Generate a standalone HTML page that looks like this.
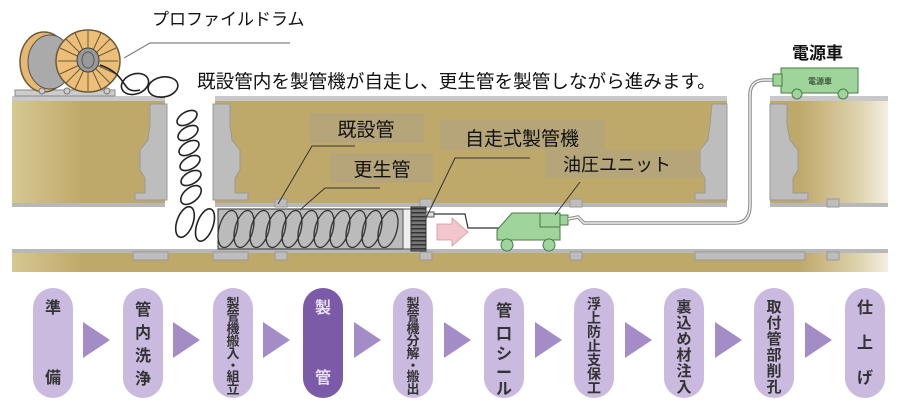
<!DOCTYPE html>
<html><head><meta charset="utf-8"><style>
html,body{margin:0;padding:0;background:#fff;width:900px;height:408px;overflow:hidden}
svg{display:block}
text{font-family:"Liberation Sans","Noto Sans CJK JP",sans-serif}
</style></head><body>
<svg width="900" height="408" viewBox="0 0 900 408" xmlns="http://www.w3.org/2000/svg">
<defs>
<linearGradient id="soil" x1="0" x2="1" y1="0" y2="0">
<stop offset="0" stop-color="#d6c791"/><stop offset="0.08" stop-color="#bfa96a"/><stop offset="0.9" stop-color="#bfa96a"/><stop offset="0.97" stop-color="#e0d5b2"/><stop offset="1" stop-color="#f3efe2"/>
</linearGradient>
<pattern id="hatch" width="3" height="4" patternUnits="userSpaceOnUse"><rect width="3" height="4" fill="#777"/><rect width="3" height="1.5" fill="#333"/></pattern>
</defs>
<rect x="12" y="100" width="876" height="172" fill="url(#soil)"/>
<rect x="12" y="206" width="876" height="45" fill="#fff"/>
<rect x="12" y="203" width="876" height="4" fill="#b8b8b8"/>
<rect x="12" y="249" width="876" height="4" fill="#b8b8b8"/>
<rect x="165" y="96" width="50" height="112" fill="#fff"/>
<rect x="727" y="96" width="43" height="112" fill="#fff"/>
<rect x="12" y="96" width="153" height="5" fill="#c8c8c8"/>
<rect x="215" y="96" width="512" height="5" fill="#c8c8c8"/>
<rect x="770" y="96" width="118" height="5" fill="#c8c8c8"/>
<g fill="#bdbdbd" stroke="#999" stroke-width="1">
<polygon points="150,104 167,104 167,200 135,200 135,193 145,193 145,178 140,170 140,150 148,140 150,125"/>
<polygon points="213,104 230,104 230,125 232,140 240,150 240,170 235,178 235,193 248,193 248,200 213,200"/>
<polygon points="712,104 727,104 727,200 695,200 695,193 705,193 705,178 700,170 700,150 708,140 710,125"/>
<polygon points="770,104 787,104 787,125 790,140 798,150 798,170 793,178 793,193 808,193 808,200 770,200"/>
<rect x="133" y="252" width="35" height="8"/><rect x="213" y="252" width="35" height="8"/>
<rect x="695" y="252" width="110" height="8"/>
<rect x="275" y="199" width="12" height="8"/><rect x="275" y="252" width="12" height="8"/>
<rect x="420" y="199" width="12" height="8"/><rect x="420" y="252" width="12" height="8"/>
<rect x="570" y="199" width="12" height="8"/><rect x="570" y="252" width="12" height="8"/>
<rect x="827" y="199" width="12" height="8"/><rect x="827" y="252" width="12" height="8"/>
</g>
<rect x="15" y="90" width="100" height="6" fill="#ccc" stroke="#888"/>
<ellipse cx="44" cy="62" rx="24" ry="30" fill="#e8b870" stroke="#6a5a3a" stroke-width="1.5"/>
<ellipse cx="50" cy="62" rx="22" ry="27" fill="#aaa" stroke="#555"/>
<ellipse cx="88" cy="61" rx="32" ry="31" fill="#edbe78" stroke="#6a5a3a" stroke-width="1.5"/>
<g stroke="#6a5a3a" stroke-width="1">
<line x1="88" y1="31" x2="88" y2="91"/><line x1="58" y1="61" x2="118" y2="61"/>
<line x1="66" y1="39" x2="110" y2="83"/><line x1="110" y1="39" x2="66" y2="83"/>
<line x1="75" y1="33" x2="101" y2="89"/><line x1="101" y1="33" x2="75" y2="89"/>
<line x1="60" y1="48" x2="116" y2="74"/><line x1="116" y1="48" x2="60" y2="74"/>
</g>
<ellipse cx="88" cy="60" rx="11" ry="12" fill="#999" stroke="#444"/>
<ellipse cx="88" cy="60" rx="6" ry="8" fill="none" stroke="#555"/>
<circle cx="42" cy="91" r="3" fill="#ccc" stroke="#777"/><circle cx="67" cy="91" r="3" fill="#ccc" stroke="#777"/><circle cx="107" cy="91" r="3" fill="#ccc" stroke="#777"/>
<polyline points="124,58 150,43 290,43" fill="none" stroke="#666" stroke-width="1"/>
<g fill="none" stroke="#222" stroke-width="1.6">
<path d="M100,65 C130,75 120,95 140,90"/>
<ellipse cx="135" cy="84" rx="14" ry="10" transform="rotate(-20 135 84)"/>
<ellipse cx="163" cy="87" rx="15" ry="10" transform="rotate(-10 163 87)"/>
<ellipse cx="187" cy="118" rx="11" ry="6" transform="rotate(-30 187 118)"/>
<ellipse cx="188" cy="133" rx="11" ry="6" transform="rotate(-30 188 133)"/>
<ellipse cx="189" cy="148" rx="11" ry="6" transform="rotate(-30 189 148)"/>
<ellipse cx="190" cy="163" rx="11" ry="6" transform="rotate(-30 190 163)"/>
<ellipse cx="191" cy="178" rx="11" ry="6" transform="rotate(-30 191 178)"/>
<ellipse cx="191" cy="195" rx="12" ry="7" transform="rotate(-40 191 195)"/>
<ellipse cx="185" cy="222" rx="8" ry="16" transform="rotate(20 185 222)"/>
<ellipse cx="205" cy="225" rx="8" ry="17" transform="rotate(20 205 225)"/>
</g>
<rect x="218" y="209" width="185" height="40" fill="#bbb" stroke="#333"/>
<g fill="none" stroke="#333" stroke-width="1.3">
<ellipse cx="228" cy="229" rx="9" ry="19" transform="rotate(15 228 229)"/>
<ellipse cx="244" cy="229" rx="9" ry="19" transform="rotate(15 244 229)"/>
<ellipse cx="260" cy="229" rx="9" ry="19" transform="rotate(15 260 229)"/>
<ellipse cx="276" cy="229" rx="9" ry="19" transform="rotate(15 276 229)"/>
<ellipse cx="292" cy="229" rx="9" ry="19" transform="rotate(15 292 229)"/>
<ellipse cx="308" cy="229" rx="9" ry="19" transform="rotate(15 308 229)"/>
<ellipse cx="324" cy="229" rx="9" ry="19" transform="rotate(15 324 229)"/>
<ellipse cx="340" cy="229" rx="9" ry="19" transform="rotate(15 340 229)"/>
<ellipse cx="356" cy="229" rx="9" ry="19" transform="rotate(15 356 229)"/>
<ellipse cx="372" cy="229" rx="9" ry="19" transform="rotate(15 372 229)"/>
<ellipse cx="388" cy="229" rx="9" ry="19" transform="rotate(15 388 229)"/>
</g>
<rect x="403" y="209" width="8" height="40" fill="#eee" stroke="#555"/>
<rect x="411" y="207" width="15" height="44" fill="url(#hatch)" stroke="#333"/>
<rect x="426" y="212" width="8" height="5" fill="#ddd" stroke="#555"/>
<polyline points="434,214 465,214 468,228 500,228" fill="none" stroke="#333" stroke-width="1.2"/>
<polygon points="437,224 452,224 452,218 468,232 452,246 452,240 437,240" fill="#f3c6cc" stroke="#c99" stroke-width="0.8"/>
<g fill="#9fd49b" stroke="#4a7a4a" stroke-width="1">
<polygon points="497,230 512,213 560,213 560,240 497,240"/>
<rect x="540" y="213" width="20" height="14"/>
<rect x="560" y="215" width="8" height="10"/>
<circle cx="507" cy="245" r="6"/><circle cx="549" cy="245" r="6"/>
</g>
<path d="M568,219 L578,217 L584,223 L735,223 Q750,223 750,205 L750,95 Q750,80 765,80 L780,80" fill="none" stroke="#888" stroke-width="3.5"/>
<path d="M568,219 L578,217 L584,223 L735,223 Q750,223 750,205 L750,95 Q750,80 765,80 L780,80" fill="none" stroke="#eee" stroke-width="1.5"/>
<g fill="#9fd49b" stroke="#4a7a4a" stroke-width="1">
<rect x="781" y="68" width="77" height="25"/>
<rect x="773" y="74" width="9" height="12"/>
<circle cx="797" cy="94" r="5"/><circle cx="843" cy="94" r="5"/>
</g>
<text x="820" y="84" font-size="8" font-weight="bold" fill="#3a5a3a" text-anchor="middle">電源車</text>
<rect x="309" y="113" width="115" height="30" fill="#b4a57b" opacity="0.85"/>
<rect x="330" y="153" width="103" height="30" fill="#b4a57b" opacity="0.85"/>
<rect x="440" y="120" width="165" height="30" fill="#b4a57b" opacity="0.85"/>
<rect x="545" y="150" width="155" height="28" fill="#b4a57b" opacity="0.85"/>
<text x="366" y="136" font-size="19" fill="#111" text-anchor="middle">既設管</text>
<text x="382" y="176" font-size="19" fill="#111" text-anchor="middle">更生管</text>
<text x="522" y="145" font-size="19" fill="#111" text-anchor="middle">自走式製管機</text>
<text x="617" y="171" font-size="18" fill="#111" text-anchor="middle">油圧ユニット</text>
<g stroke="#333" stroke-width="1" fill="none">
<polyline points="355,146 312,146 278,204"/>
<polyline points="380,188 325,188 300,210"/>
<polyline points="530,158 455,158 426,218"/>
<polyline points="580,182 555,215"/>
</g>
<text x="152" y="25" font-size="17" fill="#111">プロファイルドラム</text>
<text x="197" y="88" font-size="18.6" fill="#111">既設管内を製管機が自走し、更生管を製管しながら進みます。</text>
<text x="792" y="59" font-size="17" font-weight="bold" fill="#111">電源車</text>
<g fill="#a48cc6">
<polygon points="83,322 110,340 83,358"/>
<polygon points="173,322 200,340 173,358"/>
<polygon points="263,322 290,340 263,358"/>
<polygon points="354,322 381,340 354,358"/>
<polygon points="444,322 471,340 444,358"/>
<polygon points="535,322 562,340 535,358"/>
<polygon points="625,322 652,340 625,358"/>
<polygon points="715,322 742,340 715,358"/>
<polygon points="805,322 832,340 805,358"/>
</g>
<g fill="#cbbadf">
<rect x="33" y="288" width="40" height="110" rx="20"/>
<rect x="123" y="288" width="40" height="110" rx="20"/>
<rect x="213" y="288" width="40" height="110" rx="20"/>
<rect x="303" y="288" width="40" height="110" rx="20" fill="#7b5aa8"/>
<rect x="393" y="288" width="40" height="110" rx="20"/>
<rect x="484" y="288" width="40" height="110" rx="20"/>
<rect x="574" y="288" width="40" height="110" rx="20"/>
<rect x="664" y="288" width="40" height="110" rx="20"/>
<rect x="754" y="288" width="40" height="110" rx="20"/>
<rect x="845" y="288" width="40" height="110" rx="20"/>
</g>
<g font-size="16" font-weight="bold" fill="#333" text-anchor="middle">
<text x="53" y="313">準</text><text x="53" y="383">備</text>
<text x="143" y="315">管</text><text x="143" y="338">内</text><text x="143" y="361">洗</text><text x="143" y="384">浄</text>
<g font-size="13"><text x="233" y="308">製</text><text x="233" y="320.5">管</text><text x="233" y="333">機</text><text x="233" y="345.5">搬</text><text x="233" y="358">入</text><text x="233" y="370">・</text><text x="233" y="381">組</text><text x="233" y="393.5">立</text></g>
<text x="323" y="313" fill="#e8e0f2">製</text><text x="323" y="383" fill="#e8e0f2">管</text>
<g font-size="13"><text x="413" y="308">製</text><text x="413" y="320.5">管</text><text x="413" y="333">機</text><text x="413" y="345.5">分</text><text x="413" y="358">解</text><text x="413" y="370">・</text><text x="413" y="381">搬</text><text x="413" y="393.5">出</text></g>
<text x="504" y="316">管</text><text x="504" y="339">口</text><text x="504" y="359">シ</text><text x="504" y="378">ー</text><text x="504" y="394">ル</text>
<g font-size="14"><text x="594" y="309">浮</text><text x="594" y="323">上</text><text x="594" y="337">防</text><text x="594" y="351">止</text><text x="594" y="365">支</text><text x="594" y="379">保</text><text x="594" y="393">工</text></g>
<g font-size="15"><text x="684" y="312">裏</text><text x="684" y="328">込</text><text x="684" y="344">め</text><text x="684" y="360">材</text><text x="684" y="376">注</text><text x="684" y="392">入</text></g>
<g font-size="15"><text x="774" y="312">取</text><text x="774" y="328">付</text><text x="774" y="344">管</text><text x="774" y="360">部</text><text x="774" y="376">削</text><text x="774" y="392">孔</text></g>
<text x="865" y="313">仕</text><text x="865" y="348">上</text><text x="865" y="383">げ</text>
</g>
</svg>
</body></html>
